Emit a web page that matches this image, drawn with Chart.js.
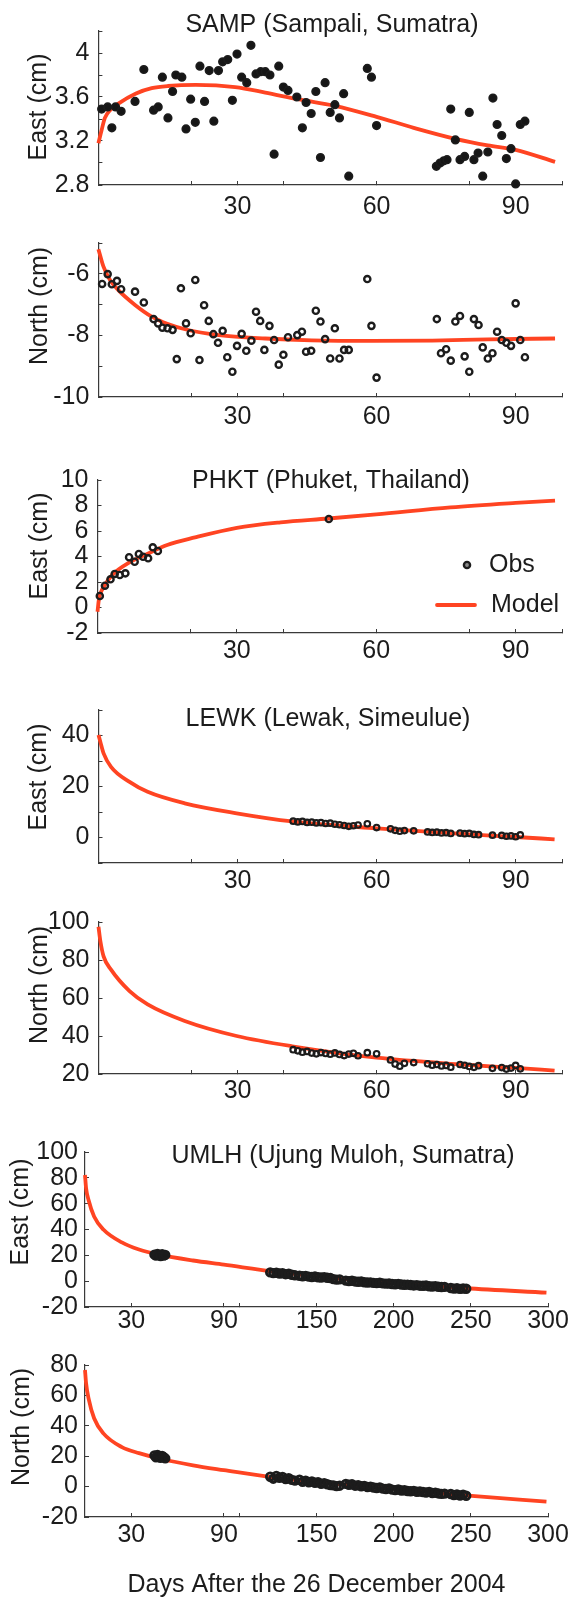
<!DOCTYPE html>
<html>
<head>
<meta charset="utf-8">
<script src="https://cdn.jsdelivr.net/npm/chart.js@4.4.0/dist/chart.umd.min.js"></script>
<style>
  body { margin: 0; background: #ffffff; width: 579px; height: 1598px; position: relative; overflow: hidden; }
  canvas { position: absolute; left: 0; }
</style>
</head>
<body>
<canvas id="sampEast"></canvas>
<canvas id="sampNorth"></canvas>
<canvas id="phktEast"></canvas>
<canvas id="lewkEast"></canvas>
<canvas id="lewkNorth"></canvas>
<canvas id="umlhEast"></canvas>
<canvas id="umlhNorth"></canvas>
<script>
// ---- SAMP (Sampali, Sumatra) ----
const sampEastDays = [0.7, 2.0, 2.9, 3.7, 4.9, 7.9, 9.8, 11.9, 12.9, 13.8, 15.0, 16.0, 16.7, 18.0, 18.9,
  19.9, 20.9, 21.9, 22.9, 23.9, 24.9, 25.9, 26.8, 27.9, 28.9, 29.9, 30.9, 32.0, 32.9, 34.0, 35.0, 36.0,
  37.0, 37.9, 38.9, 39.9, 40.9, 42.8, 44.0, 44.8, 45.9, 46.9, 47.9, 48.9, 50.0, 51.0, 52.0, 52.9, 54.0,
  58.0, 58.9, 60.0, 72.9, 73.7, 74.5, 75.2, 76.0, 77.0, 78.0, 79.0, 80.0, 81.0, 81.9, 82.9, 84.0, 85.1,
  86.0, 87.0, 88.0, 89.0, 90.0, 91.0, 92.0];
const sampEastObs = [3.49, 3.51, 3.32, 3.51, 3.47, 3.56, 3.85, 3.48, 3.51, 3.78, 3.41, 3.65, 3.80, 3.78, 3.31,
  3.58, 3.37, 3.88, 3.56, 3.84, 3.38, 3.84, 3.92, 3.94, 3.57, 3.99, 3.78, 3.73, 4.07, 3.81, 3.83, 3.83,
  3.80, 3.08, 3.88, 3.69, 3.66, 3.60, 3.32, 3.55, 3.45, 3.65, 3.05, 3.73, 3.46, 3.53, 3.41, 3.63, 2.88,
  3.86, 3.78, 3.34, 2.97, 3.00, 3.02, 3.03, 3.49, 3.21, 3.03, 3.06, 3.46, 3.03, 3.09, 2.88, 3.10, 3.59,
  3.35, 3.25, 3.04, 3.13, 2.81, 3.35, 3.38];
const sampModelEastDays = [0, 0.7, 1.4, 2.5, 4.3, 8, 11.5, 15, 21, 29.5, 36, 43, 51, 60, 68, 77, 84, 90, 98.5];
const sampModelEast = [3.18, 3.30, 3.41, 3.48, 3.54, 3.63, 3.68, 3.70, 3.71, 3.69, 3.64, 3.58, 3.52, 3.42, 3.32, 3.22, 3.16, 3.12, 3.01];

const sampNorthDays = [0.8, 2.0, 2.9, 4.0, 4.9, 7.9, 9.8, 11.9, 12.9, 13.8, 14.9, 16.0, 16.9, 17.8, 18.9,
  19.9, 20.9, 21.8, 22.8, 23.8, 24.8, 25.8, 26.8, 27.8, 28.9, 29.9, 30.9, 31.9, 33.0, 34.0, 34.9, 35.8,
  36.9, 37.9, 38.9, 39.9, 40.9, 42.9, 43.9, 44.8, 45.9, 46.9, 47.9, 48.9, 50.0, 51.0, 52.0, 53.0, 54.0,
  58.0, 58.9, 60.0, 73.0, 73.9, 75.0, 76.0, 77.0, 78.0, 79.0, 80.0, 81.0, 82.0, 82.9, 84.0, 85.0, 86.0,
  87.0, 88.0, 89.0, 90.0, 91.0, 92.0];
const sampNorthObs = [-6.33, -6.01, -6.34, -6.23, -6.50, -6.58, -6.93, -7.47, -7.61, -7.75, -7.77, -7.82, -8.77, -6.47, -7.61,
  -7.93, -6.20, -8.80, -7.02, -7.53, -7.96, -8.24, -7.85, -8.71, -9.18, -8.34, -7.95, -8.50, -8.17, -7.23, -7.53, -8.47,
  -7.69, -8.15, -8.95, -8.63, -8.06, -7.99, -7.88, -8.53, -8.50, -7.20, -7.55, -8.12, -8.75, -7.77, -8.75, -8.47, -8.47,
  -6.17, -7.69, -9.37, -7.47, -8.58, -8.45, -8.82, -7.55, -7.37, -8.68, -9.18, -7.47, -7.66, -8.39, -8.75, -8.58, -7.88,
  -8.15, -8.24, -8.34, -6.96, -8.15, -8.71];
const sampModelNorthDays = [0, 1.1, 2.5, 4.3, 7.9, 11.5, 15, 18.7, 26, 36, 46, 59, 72, 84, 98.5];
const sampModelNorth = [-5.2, -5.77, -6.2, -6.53, -7.01, -7.39, -7.63, -7.80, -7.99, -8.10, -8.16, -8.18, -8.17, -8.13, -8.10];

// ---- PHKT (Phuket, Thailand) ----
const phktDays = [0.5, 1.6, 2.8, 3.7, 4.8, 6.0, 6.8, 8.0, 8.9, 9.8, 10.9, 11.9, 13.0, 49.8];
const phktEastObs = [0.90, 1.71, 2.21, 2.63, 2.55, 2.68, 3.94, 3.59, 4.20, 3.98, 3.86, 4.72, 4.43, 6.94];
const phktModelDays = [0, 0.3, 1.5, 3.3, 6.7, 10.7, 15, 21, 30, 39.4, 49.7, 60, 76, 90, 98.5];
const phktModelEast = [-0.33, 0.62, 1.7, 2.6, 3.5, 4.2, 4.9, 5.5, 6.25, 6.68, 6.98, 7.3, 7.85, 8.2, 8.38];

// ---- LEWK (Lewak, Simeulue) ----
const lewkDays = [42, 43, 44, 45, 46, 47, 48, 49, 50, 51, 52, 53, 54, 55, 56, 58, 60, 63, 64, 65, 66, 68,
  71, 72, 73, 74, 75, 76, 78, 79, 80, 81, 82, 85, 87, 88, 89, 90, 91];
const lewkEastObs = [6.4, 6.1, 6.3, 5.9, 6.0, 5.7, 5.8, 5.5, 5.6, 5.2, 5.0, 4.7, 4.4, 4.6, 4.9, 5.4, 3.9, 3.4, 2.8, 2.5, 2.7, 2.6,
  2.2, 2.0, 2.1, 1.8, 1.9, 1.6, 1.7, 1.5, 1.6, 1.2, 1.1, 0.9, 0.8, 0.5, 0.6, 0.3, 1.0];
const lewkNorthObs = [32.8, 32.2, 31.5, 31.9, 31.0, 30.6, 31.3, 30.8, 30.4, 31.1, 30.3, 29.7, 30.5, 30.9, 29.6, 31.2, 30.6, 27.4, 25.2, 24.1, 25.6, 26.0,
  25.4, 24.6, 25.0, 24.2, 24.5, 23.6, 25.0, 24.6, 24.0, 23.5, 24.4, 23.0, 23.4, 22.6, 23.1, 24.5, 22.7];
const lewkModelDays = [0, 0.4, 1.1, 2.7, 6.7, 10.6, 18.6, 29.8, 41.8, 60, 78.5, 90, 98.4];
const lewkModelEast = [40.2, 37.5, 33, 27.7, 21.8, 17.9, 13.4, 9.5, 6.3, 3.6, 1.4, 0.2, -0.7];
const lewkModelNorth = [97.5, 90, 81.9, 74.9, 63.6, 56.6, 47.9, 40.0, 34.6, 28.6, 25.0, 23.2, 21.8];

// ---- UMLH (Ujung Muloh, Sumatra) ----
const umlhDays = [45, 46, 47, 48, 49, 50, 51, 52,
  120, 122, 124, 126, 128, 130, 132, 134, 136,
  139, 141, 143, 145, 147, 149, 151, 153, 155, 157, 159,
  161, 163, 165,
  169, 171, 173, 175, 177, 179, 181, 183, 185, 187, 189, 191, 193, 195, 197, 199, 201,
  203, 205, 207, 209, 211, 213, 215, 217, 219, 221, 223, 225, 227, 229, 231, 233,
  237, 239, 241, 243, 245, 247];
const umlhEastObs = [20.5, 19.8, 21.0, 20.2, 19.5, 20.8, 19.9, 20.3,
  6.8, 6.2, 6.5, 5.9, 6.1, 5.4, 5.7, 5.0, 4.6,
  4.2, 3.8, 4.1, 3.5, 3.2, 3.6, 3.0, 2.8, 3.1, 2.6, 2.4,
  1.6, 1.2, 1.4,
  0.4, 0.0, 0.3, -0.2, -0.5, -0.3, -0.8, -1.0, -0.9, -1.3, -1.5, -1.2, -1.7, -1.9, -1.8, -2.2, -2.4,
  -2.1, -2.6, -2.8, -2.7, -3.0, -3.3, -3.1, -3.5, -3.6, -3.4, -3.9, -4.1, -3.8, -4.3, -4.5, -4.4,
  -5.3, -5.8, -5.5, -6.0, -5.7, -5.9];
const umlhNorthObs = [20.5, 19.2, 20.8, 19.5, 18.9, 20.1, 19.4, 18.6,
  6.5, 5.2, 7.0, 5.8, 6.3, 4.9, 5.5, 4.4, 3.9,
  4.5, 3.2, 3.9, 2.8, 3.4, 2.5, 2.9, 1.8, 2.3, 1.5, 1.0,
  0.8, 0.3, 0.6,
  1.8, 1.2, 1.5, 0.6, 0.9, 0.2, 0.5, -0.3, 0.0, -0.6, -0.9, -0.5, -1.3, -1.6, -1.2, -2.0, -2.3,
  -1.9, -2.6, -2.4, -2.9, -3.1, -2.8, -3.4, -3.2, -3.6, -3.9, -3.5, -4.2, -4.0, -4.5, -4.8, -4.6,
  -4.9, -5.6, -5.2, -5.9, -5.4, -6.0];
const umlhModelDays = [0, 0.7, 2.3, 5.9, 11.9, 23.9, 35, 48, 70, 90, 122, 160, 201, 246.5, 299];
const umlhModelEast = [82.2, 72, 62.8, 50, 40, 30, 24.5, 20.5, 16, 12.8, 7.5, 2.5, -1.5, -5.5, -8.9];
const umlhModelNorth = [76.7, 68, 58, 45, 35, 26, 22, 18.5, 14, 10.8, 6.0, 2.0, -1.5, -5.8, -9.9];

// ---- axis ticks ----
const shortDayTicks = [20, 30, 40, 60, 80, 90, 100];
const shortDayLabels = [30, 60, 90];
const longDayTicks = [30, 90, 100, 150, 200, 250, 300];
const longDayLabels = [30, 90, 150, 200, 250, 300];
const sampEastTicks = [2.8, 3.0, 3.2, 3.4, 3.6, 3.8, 4.0, 4.2];
const sampEastLabels = [2.8, 3.2, 3.6, 4];
const sampNorthTicks = [-10, -9, -8, -7, -6, -5];
const sampNorthLabels = [-10, -8, -6];
const phktEastTicks = [-2, 0, 2, 4, 6, 8, 10];
const lewkEastTicks = [-10, 0, 10, 20, 30, 40, 50];
const lewkEastLabels = [0, 20, 40];
const lewkNorthTicks = [20, 40, 60, 80, 100];
const umlhEastTicks = [-20, 0, 20, 40, 60, 80, 100];
const umlhNorthTicks = [-20, 0, 20, 40, 60, 80];

const FONT = "'Liberation Sans', Arial, Helvetica, sans-serif";
const INK = '#1c1c1c';
const AXIS = '#3a3a3a';
const RED = '#ff4422';

function pairs(xs, ys) {
  return xs.map((x, i) => ({ x: x, y: ys[i] }));
}

function hasLabel(list, v) {
  return list.some(l => Math.abs(l - v) < 1e-6);
}

// titles, axis titles and the small legend, drawn over each panel
function textPlugin(items, legend) {
  return {
    id: 'panelText',
    afterDraw(chart) {
      const ctx = chart.ctx;
      ctx.save();
      ctx.fillStyle = INK;
      ctx.font = '25px ' + FONT;
      ctx.textBaseline = 'middle';
      items.forEach(t => {
        ctx.save();
        ctx.translate(t.x, t.y);
        if (t.rotate) ctx.rotate(t.rotate);
        ctx.textAlign = t.align || 'center';
        ctx.fillText(t.text, 0, 0);
        ctx.restore();
      });
      if (legend) {
        const obs = chart.data.datasets.find(d => d.label === 'Obs');
        const model = chart.data.datasets.find(d => d.label === 'Model');
        ctx.beginPath();
        ctx.arc(legend.markerX, legend.obsY, obs.pointRadius, 0, Math.PI * 2);
        ctx.fillStyle = '#8a8a8a';
        ctx.fill();
        ctx.lineWidth = obs.pointBorderWidth;
        ctx.strokeStyle = obs.borderColor;
        ctx.stroke();
        ctx.beginPath();
        ctx.moveTo(legend.lineX0, legend.modelY);
        ctx.lineTo(legend.lineX1, legend.modelY);
        ctx.lineWidth = model.borderWidth;
        ctx.strokeStyle = model.borderColor;
        ctx.lineCap = 'round';
        ctx.stroke();
        ctx.fillStyle = INK;
        ctx.textAlign = 'left';
        ctx.fillText(obs.label, legend.textX, legend.obsY);
        ctx.fillText(model.label, legend.textX + 2, legend.modelY);
      }
      ctx.restore();
    }
  };
}

function makePanel(p) {
  const canvas = document.getElementById(p.id);
  const top = p.plot.top - 31;
  const bottom = p.canvasBottom || p.plot.bottom + 45;
  canvas.width = 579;
  canvas.height = bottom - top;
  canvas.style.top = top + 'px';
  const xAxisHeight = bottom - p.plot.bottom;
  const shift = t => Object.assign({}, t, { y: t.y - top });
  const items = p.texts.map(shift);
  let legend = null;
  if (p.legend) {
    legend = Object.assign({}, p.legend, { obsY: p.legend.obsY - top, modelY: p.legend.modelY - top });
  }

  const xTitle = p.xTitle ? {
    display: true, text: p.xTitle, color: INK,
    font: { family: FONT, size: 25, lineHeight: 1 }, padding: { top: 0, bottom: 0 }
  } : { display: false };

  new Chart(canvas, {
    type: 'scatter',
    data: {
      datasets: [
        {
          label: 'Model',
          data: pairs(p.modelDays, p.model),
          showLine: true,
          borderColor: RED,
          borderWidth: 3.8,
          pointRadius: 0,
          cubicInterpolationMode: 'monotone',
          order: 1,
          clip: false
        },
        {
          label: 'Obs',
          data: pairs(p.obsDays, p.obs),
          pointRadius: p.marker.r,
          pointBorderWidth: p.marker.w,
          borderColor: INK,
          backgroundColor: p.marker.fill,
          order: 0,
          clip: false
        }
      ]
    },
    options: {
      responsive: false,
      animation: false,
      devicePixelRatio: 1,
      events: [],
      layout: { padding: { left: 0, top: 31, right: 579 - p.plot.right, bottom: 0 } },
      plugins: { legend: { display: false }, tooltip: { enabled: false } },
      scales: {
        x: {
          type: 'linear',
          min: 0,
          max: p.xMax,
          afterFit: s => { s.height = xAxisHeight; },
          afterBuildTicks: s => { s.ticks = p.xTicks.map(v => ({ value: v })); },
          ticks: {
            autoSkip: false, maxRotation: 0, padding: p.xPad, color: INK,
            font: { family: FONT, size: 25 },
            callback: v => hasLabel(p.xLabels, v) ? String(v) : ''
          },
          grid: { drawOnChartArea: false, tickLength: -4, color: AXIS, lineWidth: 1 },
          border: { color: AXIS, width: 1.2 },
          title: xTitle
        },
        y: {
          type: 'linear',
          min: p.yMin,
          max: p.yMax,
          afterFit: s => { s.width = p.plot.left; },
          afterBuildTicks: s => { s.ticks = p.yTicks.map(v => ({ value: v })); },
          ticks: {
            autoSkip: false, padding: p.yPad, color: INK,
            font: { family: FONT, size: 25 },
            callback: v => hasLabel(p.yLabels, v) ? String(v) : ''
          },
          grid: { drawOnChartArea: false, tickLength: -4, color: AXIS, lineWidth: 1 },
          border: { color: AXIS, width: 1.2 }
        }
      }
    },
    plugins: [textPlugin(items, legend)]
  });
}

const UP = -Math.PI / 2;
const solid = { r: 3.8, w: 1.6, fill: '#161616' };
const ring = { r: 3.1, w: 2.4, fill: 'rgba(255,255,255,0)' };
const smallRing = { r: 2.8, w: 2.1, fill: 'rgba(255,255,255,0)' };
const bandRing = { r: 3.8, w: 2.8, fill: 'rgba(255,255,255,0)' };

makePanel({
  id: 'sampEast', plot: { left: 98.4, right: 562, top: 31, bottom: 185 },
  xMax: 100, xTicks: shortDayTicks, xLabels: shortDayLabels, xPad: 11,
  yMin: 2.8, yMax: 4.2, yTicks: sampEastTicks, yLabels: sampEastLabels, yPad: 13,
  modelDays: sampModelEastDays, model: sampModelEast, obsDays: sampEastDays, obs: sampEastObs, marker: solid,
  texts: [
    { text: 'SAMP (Sampali, Sumatra)', x: 332, y: 25 },
    { text: 'East (cm)', x: 39, y: 107, rotate: UP }
  ]
});

makePanel({
  id: 'sampNorth', plot: { left: 98.4, right: 562, top: 243, bottom: 397 },
  xMax: 100, xTicks: shortDayTicks, xLabels: shortDayLabels, xPad: 9,
  yMin: -10, yMax: -5, yTicks: sampNorthTicks, yLabels: sampNorthLabels, yPad: 13,
  modelDays: sampModelNorthDays, model: sampModelNorth, obsDays: sampNorthDays, obs: sampNorthObs, marker: ring,
  texts: [
    { text: 'North (cm)', x: 40, y: 306, rotate: UP }
  ]
});

makePanel({
  id: 'phktEast', plot: { left: 97.5, right: 562, top: 480, bottom: 633 },
  xMax: 100, xTicks: shortDayTicks, xLabels: shortDayLabels, xPad: 7,
  yMin: -2, yMax: 10, yTicks: phktEastTicks, yLabels: phktEastTicks, yPad: 13,
  modelDays: phktModelDays, model: phktModelEast, obsDays: phktDays, obs: phktEastObs, marker: ring,
  texts: [
    { text: 'PHKT (Phuket, Thailand)', x: 331, y: 481 },
    { text: 'East (cm)', x: 40, y: 546, rotate: UP }
  ],
  legend: { markerX: 467, obsY: 565, lineX0: 437, lineX1: 475, modelY: 605, textX: 489 }
});

makePanel({
  id: 'lewkEast', plot: { left: 98.5, right: 562, top: 710, bottom: 863 },
  xMax: 100, xTicks: shortDayTicks, xLabels: shortDayLabels, xPad: 7,
  yMin: -10, yMax: 50, yTicks: lewkEastTicks, yLabels: lewkEastLabels, yPad: 13,
  modelDays: lewkModelDays, model: lewkModelEast, obsDays: lewkDays, obs: lewkEastObs, marker: smallRing,
  texts: [
    { text: 'LEWK (Lewak, Simeulue)', x: 328, y: 719 },
    { text: 'East (cm)', x: 39, y: 777, rotate: UP }
  ]
});

makePanel({
  id: 'lewkNorth', plot: { left: 98.5, right: 562, top: 922, bottom: 1074 },
  xMax: 100, xTicks: shortDayTicks, xLabels: shortDayLabels, xPad: 6,
  yMin: 20, yMax: 100, yTicks: lewkNorthTicks, yLabels: lewkNorthTicks, yPad: 13,
  modelDays: lewkModelDays, model: lewkModelNorth, obsDays: lewkDays, obs: lewkNorthObs, marker: smallRing,
  texts: [
    { text: 'North (cm)', x: 40, y: 985, rotate: UP }
  ]
});

makePanel({
  id: 'umlhEast', plot: { left: 85, right: 548, top: 1152, bottom: 1307 },
  xMax: 300, xTicks: longDayTicks, xLabels: longDayLabels, xPad: 3,
  yMin: -20, yMax: 100, yTicks: umlhEastTicks, yLabels: umlhEastTicks, yPad: 11,
  modelDays: umlhModelDays, model: umlhModelEast, obsDays: umlhDays, obs: umlhEastObs, marker: bandRing,
  texts: [
    { text: 'UMLH (Ujung Muloh, Sumatra)', x: 343, y: 1156 },
    { text: 'East (cm)', x: 21, y: 1212, rotate: UP }
  ]
});

makePanel({
  id: 'umlhNorth', plot: { left: 85, right: 548, top: 1365, bottom: 1517 }, canvasBottom: 1598,
  xMax: 300, xTicks: longDayTicks, xLabels: longDayLabels, xPad: 7,
  yMin: -20, yMax: 80, yTicks: umlhNorthTicks, yLabels: umlhNorthTicks, yPad: 11,
  modelDays: umlhModelDays, model: umlhModelNorth, obsDays: umlhDays, obs: umlhNorthObs, marker: bandRing,
  xTitle: 'Days After the 26 December 2004',
  texts: [
    { text: 'North (cm)', x: 22, y: 1427, rotate: UP }
  ]
});
</script>
</body>
</html>
